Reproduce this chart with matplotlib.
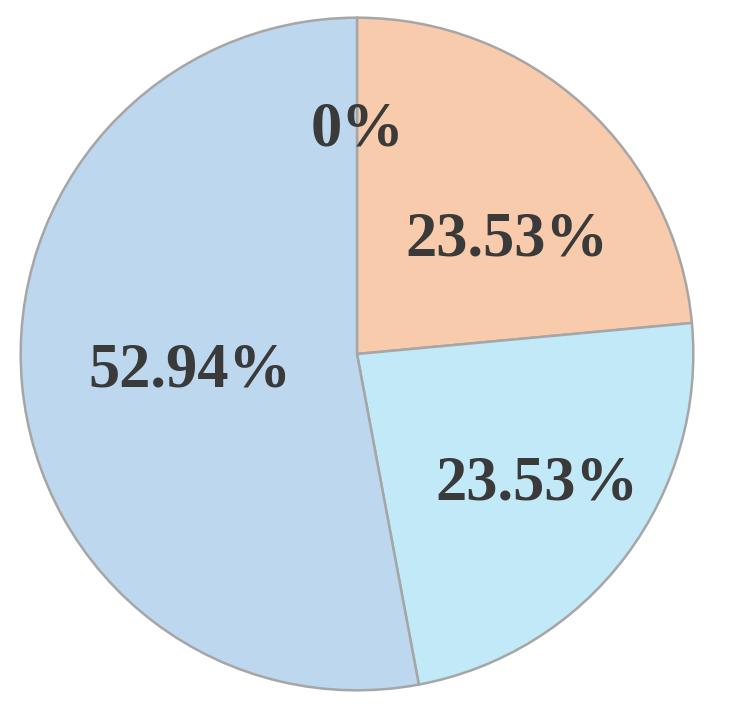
import numpy as np
import matplotlib
matplotlib.use("Agg")
import matplotlib.pyplot as plt

plt.rcParams["font.family"] = ["Liberation Serif", "DejaVu Serif"]

categories = ["A", "B", "C", "D"]
counts = [0, 4, 4, 9]
labels = ["0%", "23.53%", "23.53%", "52.94%"]

colors = ["#F7CBAC", "#F7CBAC", "#C1E9F7", "#BDD7EE"]
# label placement (distance from centre as fraction of radius, angle shift in degrees)
label_dist = [0.665, 0.56, 0.66, 0.50]
label_shift = [0, -10.6, 1.0, 0.7]

W, H = 731, 709
fig = plt.figure(figsize=(W / 100, H / 100), dpi=100)
cx, cy, r = 357, 354, 338
ax = fig.add_axes([(cx - r) / W, 1 - (cy + r) / H, 2 * r / W, 2 * r / H])

wedges, _ = ax.pie(counts, colors=colors, startangle=90, counterclock=False,
                   radius=1, wedgeprops=dict(edgecolor="#A6A6A6", linewidth=1.8))
ax.set_xlim(-1.005, 1.005)
ax.set_ylim(-1.005, 1.005)
ax.set_aspect("equal")
ax.axis("off")

for w, lab, d, s in zip(wedges, labels, label_dist, label_shift):
    ang = np.deg2rad((w.theta1 + w.theta2) / 2 + s)
    ax.text(d * np.cos(ang), d * np.sin(ang), lab, ha="center", va="center",
            fontsize=45, fontweight="bold", color="#3A3A3A")

fig.savefig("out.png", dpi=100, facecolor="white")
